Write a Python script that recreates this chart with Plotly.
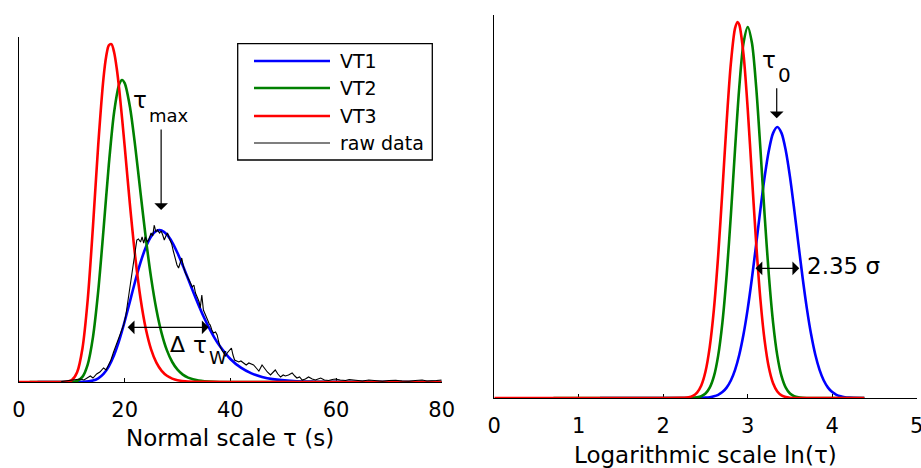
import plotly.graph_objects as go

FONT = "DejaVu Sans, Verdana, sans-serif"
BLUE, GREEN, RED = "#0000ff", "#008000", "#ff0000"

# ---------------- Left panel: normal scale tau (s), arbitrary height units
vt1_tau = [3.5, 10, 12, 14, 15, 16, 17, 18, 19, 20, 21, 22, 23, 24, 25, 26, 27, 28, 29, 30,
           31, 32, 33, 34, 35, 36, 37, 38, 40, 42, 44, 46, 48, 52, 56, 60, 80]
vt1_h = [0, 0, 0.1, 1.4, 3.7, 8.1, 15.7, 27, 42.1, 60.5, 80.7, 101, 119.6, 134.8, 145.5, 151.1,
         151.6, 147.5, 139.7, 129, 116.5, 103.2, 89.7, 76.8, 64.7, 53.8, 44.2, 35.9, 23, 14.3,
         8.6, 5.1, 2.9, 0.9, 0.3, 0.1, 0]

vt2_tau = [2, 9, 10, 11, 12, 13, 14, 15, 16, 17, 18, 19, 19.5, 20, 21, 22, 23, 24, 25, 26, 27,
           28, 29, 30, 31, 32, 34, 37, 40, 80]
vt2_h = [0, 0, 0.1, 1.0, 5.1, 17.4, 44.9, 91.3, 152.7, 217.3, 269.8, 298.2, 302, 298.9, 275.1,
         235.4, 189.2, 143.9, 104.4, 72.6, 48.7, 31.6, 20.0, 12.3, 7.4, 4.4, 1.5, 0.25, 0, 0]

vt3_tau = [0, 8, 9, 10, 11, 12, 13, 14, 15, 16, 16.5, 17, 17.5, 18, 18.5, 19, 20, 21, 22, 23,
           24, 25, 26, 27, 28, 29, 30, 32, 35, 40, 80]
vt3_h = [0, 0, 0.2, 1.9, 9.7, 33.3, 82, 155.6, 237.7, 304.4, 325.5, 336.7, 337.9, 329.7, 313.5,
         291.2, 235.8, 177.2, 125.1, 83.5, 53.2, 32.6, 19.3, 11.1, 6.2, 3.4, 1.8, 0.5, 0.1, 0, 0]

raw_tau = [8.0, 9.0, 10.0, 11.0, 11.6, 12.3, 13.0, 13.5, 14.0, 14.7, 15.3, 16.0, 16.5, 16.9,
           17.4, 17.9, 18.4, 18.8, 19.3, 19.8, 20.2, 20.7, 21.0, 21.4, 21.7, 22.0, 22.3, 22.6,
           23.0, 23.3, 23.6, 23.9, 24.3, 24.6, 25.0, 25.3, 25.6, 25.9, 26.2, 26.6, 26.9, 27.2,
           27.5, 27.8, 28.1, 28.5, 28.9, 29.2, 29.6, 29.9, 30.2, 30.5, 30.8, 31.1, 31.5, 31.9,
           32.4, 32.8, 33.1, 33.4, 33.8, 34.1, 34.3, 34.6, 34.9, 35.3, 35.7, 36.0, 36.2, 36.5,
           36.8, 37.2, 37.5, 37.8, 38.1, 38.5, 38.8, 39.1, 39.4, 39.8, 40.2, 40.5, 40.8, 41.2,
           41.6, 42.0, 42.5, 43.0, 43.5, 44.0, 44.4, 44.9, 45.4, 46.0, 46.5, 47.0, 47.6, 48.0,
           48.5, 49.0, 49.5, 50.0, 50.4, 51.0, 51.7, 52.2, 52.6, 53.1, 53.6, 54.2, 54.8, 55.5,
           56.1, 56.6, 57.1, 57.8, 58.6, 59.3, 59.9, 60.8, 61.8, 62.5, 63.1, 64.0, 65.0, 66.2,
           67.5, 68.8, 70.0, 71.3, 72.5, 73.8, 75.0, 76.3, 77.2, 78.2, 79.0, 80.0]
raw_h = [0.5, 1.0, 1.5, 2.5, 3.0, 2.0, 4.0, 6.0, 4.0, 8.0, 10, 14, 12, 16,
         22, 30, 37, 44, 50, 57, 66, 84, 98, 112, 124, 133, 142, 143,
         140, 145, 139, 145, 140, 143, 149, 146, 157, 150, 152, 149, 151, 147,
         142, 146, 149, 143, 138, 131, 121, 117, 114, 119, 124, 116, 109, 105,
         99, 95, 97, 89, 84, 80, 74, 87, 72, 66, 62, 58, 57, 52,
         49, 50, 47, 40, 35, 31, 29, 26, 29, 31, 34, 27, 22, 21,
         20, 21, 19, 17, 19, 18, 17, 14, 11, 17, 13, 10, 7, 9,
         12, 8, 5, 7, 6, 7, 9, 6, 4, 5, 2, 3, 5, 3,
         2, 3, 4, 2, 1.5, 2.5, 3, 2, 1.5, 2.5, 2, 1.5, 1, 2,
         1.2, 0.7, 1.5, 1.7, 1, 0.7, 1.5, 2, 1, 1, 1.5, 2]

# ---------------- Right panel: logarithmic scale ln(tau)
vt1_ln = [1.25, 2.0, 2.35, 2.45, 2.50, 2.55, 2.60, 2.65, 2.70, 2.75, 2.80, 2.85, 2.90, 2.95,
          3.00, 3.05, 3.10, 3.15, 3.20, 3.25, 3.30, 3.35, 3.40, 3.45, 3.50, 3.55, 3.60, 3.65,
          3.70, 3.75, 3.80, 3.85, 3.90, 3.95, 4.00, 4.05, 4.10, 4.15, 4.20, 4.25, 4.35, 4.38]
vt1_g = [0, 0, 0.03, 0.18, 0.39, 0.82, 1.66, 3.2, 5.9, 10.4, 17.5, 28.2, 43.3, 63.7,
         89.4, 120.0, 153.9, 188.7, 221.1, 247.5, 264.9, 271, 264.9, 247.5, 221.1, 188.7, 153.9,
         120.0, 89.4, 63.7, 43.3, 28.2, 17.5, 10.4, 5.9, 3.2, 1.66, 0.82, 0.39, 0.18, 0.03, 0]

vt2_ln = [0.7, 1.5, 2.2, 2.30, 2.35, 2.40, 2.45, 2.50, 2.55, 2.60, 2.65, 2.70, 2.75, 2.80,
          2.85, 2.90, 2.95, 3.00, 3.05, 3.10, 3.15, 3.20, 3.25, 3.30, 3.35, 3.40, 3.45, 3.50,
          3.55, 3.60, 3.65, 3.70, 3.90, 4.38]
vt2_g = [0, 0, 0, 0.06, 0.21, 0.63, 1.75, 4.43, 10.3, 21.8, 42.4, 75.4, 122.6, 182.6,
         249.1, 310.8, 354.9, 371, 354.9, 310.8, 249.1, 182.6, 122.6, 75.4, 42.4, 21.8, 10.3,
         4.43, 1.75, 0.63, 0.21, 0.06, 0, 0]

vt3_ln = [0.0, 1.0, 2.0, 2.20, 2.25, 2.30, 2.35, 2.40, 2.45, 2.50, 2.55, 2.60, 2.65, 2.70,
          2.75, 2.80, 2.85, 2.88, 2.90, 2.95, 3.00, 3.05, 3.10, 3.15, 3.20, 3.25, 3.30, 3.35,
          3.40, 3.45, 3.50, 3.60, 3.80, 4.38]
vt3_g = [0, 0, 0, 0.08, 0.26, 0.78, 2.16, 5.47, 12.6, 26.5, 50.9, 89.1, 142.3, 207.4,
         275.7, 334.3, 369.8, 376, 373.3, 343.6, 288.6, 221.2, 154.6, 98.5, 57.3, 30.4, 14.7,
         6.5, 2.6, 0.96, 0.32, 0.03, 0, 0]

x1_ticks = [0, 20, 40, 60, 80]
x2_ticks = [0, 1, 2, 3, 4, 5]
legend_names = ["VT1", "VT2", "VT3", "raw data"]
legend_colors = [BLUE, GREEN, RED, "#000000"]
legend_widths = [2.6, 2.6, 2.6, 1.1]

fig = go.Figure()

def smooth(x, y, color, xa, ya, name):
    fig.add_trace(go.Scatter(x=x, y=y, mode="lines", name=name, showlegend=False,
                             line=dict(color=color, width=2.6, shape="spline", smoothing=0.8),
                             xaxis=xa, yaxis=ya, cliponaxis=False, hoverinfo="skip"))

smooth(vt1_tau, vt1_h, BLUE, "x", "y", "VT1")
smooth(vt2_tau, vt2_h, GREEN, "x", "y", "VT2")
smooth(vt3_tau, vt3_h, RED, "x", "y", "VT3")
fig.add_trace(go.Scatter(x=raw_tau, y=raw_h, mode="lines", name="raw data", showlegend=False,
                         line=dict(color="black", width=1.1), xaxis="x", yaxis="y",
                         cliponaxis=False, hoverinfo="skip"))
smooth(vt1_ln, vt1_g, BLUE, "x2", "y2", "VT1")
smooth(vt2_ln, vt2_g, GREEN, "x2", "y2", "VT2")
smooth(vt3_ln, vt3_g, RED, "x2", "y2", "VT3")

W, H = 921, 468
def px(x):
    return x / W
def py(y):
    return 1 - y / H

tick_font = dict(family=FONT, size=21, color="black")
common_x = dict(showline=True, linecolor="black", linewidth=1, ticks="inside", ticklen=4,
                tickwidth=1, tickcolor="black", showgrid=False, zeroline=False,
                tickfont=tick_font, layer="below traces", fixedrange=True, automargin=False,
                ticklabeloverflow="allow", ticklabelstandoff=9)
common_y = dict(showline=True, linecolor="black", linewidth=1, ticks="", showticklabels=False,
                showgrid=False, zeroline=False, layer="below traces", fixedrange=True,
                automargin=False)

fig.update_layout(
    width=W, height=H, margin=dict(l=0, r=0, t=0, b=0, pad=0, autoexpand=False),
    paper_bgcolor="white", plot_bgcolor="white", showlegend=False,
    font=dict(family=FONT, size=21, color="black"),
    xaxis=dict(domain=[px(19), px(441.7)], range=[0, 80], anchor="y", tickvals=x1_ticks, **common_x),
    yaxis=dict(domain=[py(382), py(37)], range=[0, 345], anchor="x", **common_y),
    xaxis2=dict(domain=[px(494.3), px(916.7)], range=[0, 5], anchor="y2", tickvals=x2_ticks, **common_x),
    yaxis2=dict(domain=[py(398), py(15)], range=[0, 383], anchor="x2", **common_y),
)

ann = []
def txt(x, y, s, size=22, xanchor="center", xref="x", yref="y"):
    ann.append(dict(x=x, y=y, xref=xref, yref=yref, text=s, showarrow=False, borderpad=0,
                    xanchor=xanchor, yanchor="middle", font=dict(family=FONT, size=size, color="black")))

def arrow(x, y, ax, ay, xref="x", yref="y", both=False):
    d = dict(x=x, y=y, ax=ax, ay=ay, xref=xref, yref=yref, axref=xref, ayref=yref, text="",
             showarrow=True, arrowhead=1, arrowsize=1.9, arrowwidth=1.2, arrowcolor="black",
             standoff=0, startstandoff=0)
    if both:
        d.update(arrowside="end+start", startarrowhead=1, startarrowsize=1.9)
    ann.append(d)

# axis titles
txt(px(230.4), py(438), "Normal scale τ (s)", size=23, xref="paper", yref="paper")
txt(px(705.5), py(455), "Logarithmic scale ln(τ)", size=23, xref="paper", yref="paper")

# left annotations
txt(24.35, 282, "τ", size=23, xanchor="right")
txt(24.35, 266, "max", size=18, xanchor="left")
arrow(26.9, 172, 26.9, 254)
arrow(35.9, 54.7, 20.28, 54.7, both=True)
txt(30.07, 38, "Δ", size=22)
txt(35.7, 37, "τ", size=23, xanchor="right")
txt(35.7, 24.5, "W", size=18, xanchor="left")

# right annotations
txt(3.347, 338, "τ", size=23, xanchor="right", xref="x2", yref="y2")
txt(3.347, 323.5, "0", size=20, xanchor="left", xref="x2", yref="y2")
arrow(3.343, 279.7, 3.343, 311.3, xref="x2", yref="y2")
arrow(3.610, 129.7, 3.074, 129.7, xref="x2", yref="y2", both=True)
txt(3.69, 132, "2.35 σ", size=23, xanchor="left", xref="x2", yref="y2")

# custom legend (box, sample lines, labels)
shapes = [dict(type="rect", xref="paper", yref="paper", x0=px(237.7), x1=px(432.3),
               y0=py(160), y1=py(43.7), line=dict(color="black", width=1.3), fillcolor="white",
               layer="above")]
rows = [61, 88, 116, 143]
for name, col, lw, r in zip(legend_names, legend_colors, legend_widths, rows):
    shapes.append(dict(type="line", xref="paper", yref="paper", x0=px(254), x1=px(330),
                       y0=py(r), y1=py(r), line=dict(color=col, width=lw), layer="above"))
    txt(px(339), py(r), name, size=19, xanchor="left", xref="paper", yref="paper")

fig.update_layout(annotations=ann, shapes=shapes)
fig.write_html("out.html")
